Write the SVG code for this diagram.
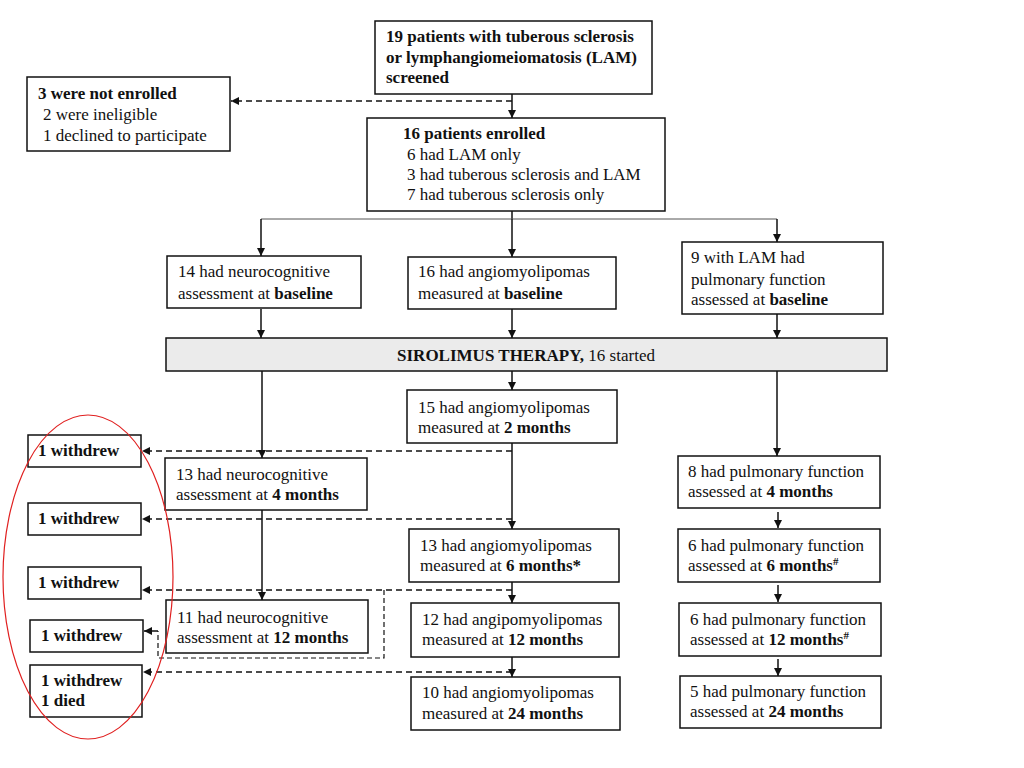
<svg xmlns="http://www.w3.org/2000/svg" width="1024" height="768" viewBox="0 0 1024 768">
<defs>
<marker id="ah" viewBox="0 0 10 10" refX="10" refY="5" markerWidth="8" markerHeight="8" markerUnits="userSpaceOnUse" orient="auto">
<path d="M0,0 L10,5 L0,10 z" fill="#111"/>
</marker>
<style>
.box{fill:#fff;stroke:#111;stroke-width:1.5}
.bar{fill:#ebebeb;stroke:#111;stroke-width:1.5}
.t{font-size:17px;fill:#111}
.b{font-weight:bold}
.ln{fill:none;stroke:#111;stroke-width:1.5}
.thin{fill:none;stroke:#555;stroke-width:1}
.dash{fill:none;stroke:#111;stroke-width:1.5;stroke-dasharray:6 4}
.dd{fill:none;stroke:#111;stroke-width:1.2;stroke-dasharray:5 3}
</style>
</defs>
<rect width="1024" height="768" fill="#fff"/>

<g id="connectors">
<line class="ln" x1="512" y1="94" x2="512" y2="118" marker-end="url(#ah)"/>
<line class="dash" x1="512" y1="101" x2="231" y2="101" marker-end="url(#ah)"/>
<line class="ln" x1="512" y1="211" x2="512" y2="219"/>
<line class="thin" x1="261" y1="219" x2="777" y2="219"/>
<line class="ln" x1="261" y1="219" x2="261" y2="256" marker-end="url(#ah)"/>
<line class="ln" x1="512" y1="219" x2="512" y2="257" marker-end="url(#ah)"/>
<line class="ln" x1="777" y1="219" x2="777" y2="242" marker-end="url(#ah)"/>
<line class="ln" x1="261" y1="309" x2="261" y2="338" marker-end="url(#ah)"/>
<line class="ln" x1="512" y1="309" x2="512" y2="338" marker-end="url(#ah)"/>
<line class="ln" x1="777" y1="314" x2="777" y2="338" marker-end="url(#ah)"/>
<line class="ln" x1="262" y1="371" x2="262" y2="458" marker-end="url(#ah)"/>
<line class="ln" x1="262" y1="510" x2="262" y2="600" marker-end="url(#ah)"/>
<line class="ln" x1="512" y1="371" x2="512" y2="390" marker-end="url(#ah)"/>
<line class="ln" x1="512" y1="443" x2="512" y2="529" marker-end="url(#ah)"/>
<line class="ln" x1="512" y1="582" x2="512" y2="603" marker-end="url(#ah)"/>
<line class="ln" x1="512" y1="657" x2="512" y2="677" marker-end="url(#ah)"/>
<line class="ln" x1="777" y1="371" x2="777" y2="456" marker-end="url(#ah)"/>
<line class="ln" x1="778" y1="512" x2="778" y2="528" marker-end="url(#ah)"/>
<line class="ln" x1="778" y1="585" x2="778" y2="602" marker-end="url(#ah)"/>
<line class="ln" x1="778" y1="659" x2="778" y2="676" marker-end="url(#ah)"/>
<line class="dash" x1="512" y1="451" x2="142" y2="451" marker-end="url(#ah)"/>
<line class="dash" x1="512" y1="519" x2="142" y2="519" marker-end="url(#ah)"/>
<line class="dash" x1="512" y1="590" x2="142" y2="590" marker-end="url(#ah)"/>
<line class="dash" x1="512" y1="672" x2="143" y2="672" marker-end="url(#ah)"/>
<polyline class="dd" points="384,590 384,658 158,658 158,631"/>
<line class="ln" x1="158" y1="631" x2="144" y2="631" stroke-width="1.2" marker-end="url(#ah)"/>
</g>

<g id="nodes" font-family="Liberation Serif, Times New Roman, serif" style="font-family:'Liberation Serif','Times New Roman',serif">
<g id="screened">
<rect class="box" x="375" y="21" width="277" height="73"/>
<text class="t b" x="386" y="42">19 patients with tuberous sclerosis</text>
<text class="t b" x="386" y="63">or lymphangiomeiomatosis (LAM)</text>
<text class="t b" x="386" y="83">screened</text>
</g>

<g id="not-enrolled">
<rect class="box" x="27" y="77" width="203" height="74"/>
<text class="t b" x="38" y="99">3 were not enrolled</text>
<text class="t" x="43" y="120">2 were ineligible</text>
<text class="t" x="43" y="141">1 declined to participate</text>
</g>

<g id="enrolled">
<rect class="box" x="367" y="118" width="298" height="93"/>
<text class="t b" x="403" y="139">16 patients enrolled</text>
<text class="t" x="407" y="160">6 had LAM only</text>
<text class="t" x="407" y="180">3 had tuberous sclerosis and LAM</text>
<text class="t" x="407" y="200">7 had tuberous sclerosis only</text>
</g>

<g id="neuro-baseline">
<rect class="box" x="167" y="256" width="194" height="52"/>
<text class="t" x="178" y="277">14 had neurocognitive</text>
<text class="t" x="178" y="299">assessment at <tspan class="b">baseline</tspan></text>
</g>

<g id="angio-baseline">
<rect class="box" x="408" y="257" width="208" height="52"/>
<text class="t" x="418" y="277">16 had angiomyolipomas</text>
<text class="t" x="418" y="299">measured at <tspan class="b">baseline</tspan></text>
</g>

<g id="pulm-baseline">
<rect class="box" x="682" y="242" width="201" height="72"/>
<text class="t" x="691" y="263">9 with LAM had</text>
<text class="t" x="691" y="285">pulmonary function</text>
<text class="t" x="691" y="305">assessed at <tspan class="b">baseline</tspan></text>
</g>

<g id="sirolimus">
<rect class="bar" x="166" y="338" width="721" height="33"/>
<text class="t" x="526" y="361" text-anchor="middle"><tspan class="b">SIROLIMUS THERAPY,</tspan> 16 started</text>
</g>

<g id="angio-2m">
<rect class="box" x="407" y="390" width="210" height="53"/>
<text class="t" x="418" y="413">15 had angiomyolipomas</text>
<text class="t" x="418" y="433">measured at <tspan class="b">2 months</tspan></text>
</g>

<g id="neuro-4m">
<rect class="box" x="165" y="458" width="202" height="52"/>
<text class="t" x="176" y="480">13 had neurocognitive</text>
<text class="t" x="176" y="500">assessment at <tspan class="b">4 months</tspan></text>
</g>

<g id="neuro-12m">
<rect class="box" x="166" y="600" width="202" height="53"/>
<text class="t" x="177" y="623">11 had neurocognitive</text>
<text class="t" x="177" y="643">assessment at <tspan class="b">12 months</tspan></text>
</g>

<g id="angio-6m">
<rect class="box" x="409" y="529" width="210" height="53"/>
<text class="t" x="420" y="551">13 had angiomyolipomas</text>
<text class="t" x="420" y="571">measured at <tspan class="b">6 months*</tspan></text>
</g>

<g id="angio-12m">
<rect class="box" x="411" y="603" width="208" height="54"/>
<text class="t" x="422" y="625">12 had angipomyolipomas</text>
<text class="t" x="422" y="645">measured at <tspan class="b">12 months</tspan></text>
</g>

<g id="angio-24m">
<rect class="box" x="411" y="677" width="209" height="53"/>
<text class="t" x="422" y="698">10 had angiomyolipomas</text>
<text class="t" x="422" y="719">measured at <tspan class="b">24 months</tspan></text>
</g>

<g id="pulm-4m">
<rect class="box" x="678" y="456" width="202" height="52"/>
<text class="t" x="688" y="477">8 had pulmonary function</text>
<text class="t" x="688" y="497">assessed at <tspan class="b">4 months</tspan></text>
</g>

<g id="pulm-6m">
<rect class="box" x="678" y="529" width="202" height="53"/>
<text class="t" x="688" y="551">6 had pulmonary function</text>
<text class="t" x="688" y="571">assessed at <tspan class="b">6 months</tspan><tspan class="b" font-size="11" dy="-6">#</tspan></text>
</g>

<g id="pulm-12m">
<rect class="box" x="679" y="603" width="202" height="53"/>
<text class="t" x="690" y="625">6 had pulmonary function</text>
<text class="t" x="690" y="645">assessed at <tspan class="b">12 months</tspan><tspan class="b" font-size="11" dy="-6">#</tspan></text>
</g>

<g id="pulm-24m">
<rect class="box" x="680" y="676" width="201" height="52"/>
<text class="t" x="690" y="697">5 had pulmonary function</text>
<text class="t" x="690" y="717">assessed at <tspan class="b">24 months</tspan></text>
</g>

<g id="withdrew-1">
<rect class="box" x="28" y="435" width="113" height="32"/>
<text class="t b" x="38" y="456">1 withdrew</text>
</g>
<g id="withdrew-2">
<rect class="box" x="28" y="503" width="113" height="32"/>
<text class="t b" x="38" y="524">1 withdrew</text>
</g>
<g id="withdrew-3">
<rect class="box" x="28" y="567" width="113" height="32"/>
<text class="t b" x="38" y="588">1 withdrew</text>
</g>
<g id="withdrew-4">
<rect class="box" x="30" y="620" width="113" height="32"/>
<text class="t b" x="41" y="641">1 withdrew</text>
</g>
<g id="withdrew-died">
<rect class="box" x="30" y="665" width="112" height="52"/>
<text class="t b" x="41" y="686">1 withdrew</text>
<text class="t b" x="41" y="706">1 died</text>
</g>
</g>

<ellipse id="highlight" cx="88" cy="577" rx="85" ry="162" fill="none" stroke="#e02020" stroke-width="1.2"/>
</svg>
